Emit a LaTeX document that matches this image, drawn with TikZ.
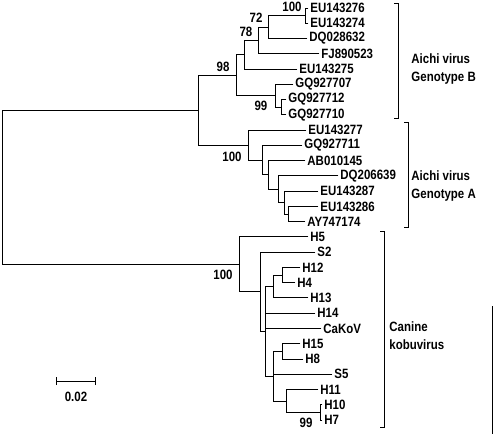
\documentclass[tikz,border=0pt]{standalone}
\usepackage{fontspec}
\setmainfont{Liberation Sans}
\newfontfamily\treefont[FakeStretch=0.85]{Liberation Sans}
\begin{document}
\begin{tikzpicture}[x=1pt,y=-1pt,line width=0.9pt,
  lbl/.style={font=\treefont\fontsize{13.5}{15}\selectfont\bfseries},
  leaf/.style={lbl,anchor=west,inner xsep=2pt,inner ysep=0pt},
  boot/.style={lbl,inner sep=0pt},
  grp/.style={anchor=west,align=left,inner sep=0pt,font=\treefont\fontsize{13.5}{18}\selectfont\bfseries},
  edge/.style={draw=black,line width=0.9pt,line cap=rect},
  brk/.style={draw=black,line width=0.8pt}]
\useasboundingbox (0,0) rectangle (496,434);
% internal nodes
\coordinate (root) at (2,187.25);
\coordinate (T) at (198,110.17);
\coordinate (n98) at (236,75.24);
\coordinate (nX) at (244,54.73);
\coordinate (n78) at (258,40.43);
\coordinate (n72) at (268,27.08);
\coordinate (n100) at (305,15.63);
\coordinate (n99) at (275,95.75);
\coordinate (n99a) at (281,107.19);
\coordinate (nA) at (248,145.10);
\coordinate (nA2) at (262,160.12);
\coordinate (nA3) at (268,174.91);
\coordinate (nA4) at (278,189.21);
\coordinate (nA5) at (284,202.57);
\coordinate (nA6) at (288,214.01);
\coordinate (nC) at (239,264.33);
\coordinate (nC2) at (260,291.75);
\coordinate (nC3) at (265,331.33);
\coordinate (cH) at (273,286.50);
\coordinate (nH124) at (282,275.05);
\coordinate (cL) at (273,376.15);
\coordinate (nH158) at (282,351.35);
\coordinate (nH11) at (286,400.95);
\coordinate (nH107) at (320,412.39);
% leaves
\node[leaf] (l0) at (308,8.00) {EU143276};
\node[leaf] (l1) at (308,23.26) {EU143274};
\node[leaf] (l2) at (307,38.52) {DQ028632};
\node[leaf] (l3) at (319,53.78) {FJ890523};
\node[leaf] (l4) at (297,69.04) {EU143275};
\node[leaf] (l5) at (293,84.30) {GQ927707};
\node[leaf] (l6) at (286,99.56) {GQ927712};
\node[leaf] (l7) at (286,114.82) {GQ927710};
\node[leaf] (l8) at (306,130.08) {EU143277};
\node[leaf] (l9) at (302,145.34) {GQ927711};
\node[leaf] (l10) at (305,160.60) {AB010145};
\node[leaf] (l11) at (338,175.86) {DQ206639};
\node[leaf] (l12) at (318,191.12) {EU143287};
\node[leaf] (l13) at (318,206.38) {EU143286};
\node[leaf] (l14) at (305,221.64) {AY747174};
\node[leaf] (l15) at (308,236.90) {H5};
\node[leaf] (l16) at (315,252.16) {S2};
\node[leaf] (l17) at (300,267.42) {H12};
\node[leaf] (l18) at (295,282.68) {H4};
\node[leaf] (l19) at (308,297.94) {H13};
\node[leaf] (l20) at (315,313.20) {H14};
\node[leaf] (l21) at (321,328.46) {CaKoV};
\node[leaf] (l22) at (300,343.72) {H15};
\node[leaf] (l23) at (303,358.98) {H8};
\node[leaf] (l24) at (332,374.24) {S5};
\node[leaf] (l25) at (318,389.50) {H11};
\node[leaf] (l26) at (322,404.76) {H10};
\node[leaf] (l27) at (322,420.02) {H7};
% edges
\draw[edge] (root) |- (T);
\draw[edge] (root) |- (nC);
\draw[edge] (T) |- (n98);
\draw[edge] (T) |- (nA);
\draw[edge] (n98) |- (nX);
\draw[edge] (n98) |- (n99);
\draw[edge] (nX) |- (n78);
\draw[edge] (nX) |- (l4.west);
\draw[edge] (n78) |- (n72);
\draw[edge] (n78) |- (l3.west);
\draw[edge] (n72) |- (n100);
\draw[edge] (n72) |- (l2.west);
\draw[edge] (n100) |- (l0.west);
\draw[edge] (n100) |- (l1.west);
\draw[edge] (n99) |- (l5.west);
\draw[edge] (n99) |- (n99a);
\draw[edge] (n99a) |- (l6.west);
\draw[edge] (n99a) |- (l7.west);
\draw[edge] (nA) |- (l8.west);
\draw[edge] (nA) |- (nA2);
\draw[edge] (nA2) |- (l9.west);
\draw[edge] (nA2) |- (nA3);
\draw[edge] (nA3) |- (l10.west);
\draw[edge] (nA3) |- (nA4);
\draw[edge] (nA4) |- (l11.west);
\draw[edge] (nA4) |- (nA5);
\draw[edge] (nA5) |- (l12.west);
\draw[edge] (nA5) |- (nA6);
\draw[edge] (nA6) |- (l13.west);
\draw[edge] (nA6) |- (l14.west);
\draw[edge] (nC) |- (l15.west);
\draw[edge] (nC) |- (nC2);
\draw[edge] (nC2) |- (l16.west);
\draw[edge] (nC2) |- (nC3);
\draw[edge] (nC3) |- (cH);
\draw[edge] (nC3) |- (l20.west);
\draw[edge] (nC3) |- (l21.west);
\draw[edge] (nC3) |- (cL);
\draw[edge] (cH) |- (nH124);
\draw[edge] (cH) |- (l19.west);
\draw[edge] (nH124) |- (l17.west);
\draw[edge] (nH124) |- (l18.west);
\draw[edge] (cL) |- (nH158);
\draw[edge] (cL) |- (l24.west);
\draw[edge] (cL) |- (nH11);
\draw[edge] (nH158) |- (l22.west);
\draw[edge] (nH158) |- (l23.west);
\draw[edge] (nH11) |- (l25.west);
\draw[edge] (nH11) |- (nH107);
\draw[edge] (nH107) |- (l26.west);
\draw[edge] (nH107) |- (l27.west);
% bootstrap values
\node[boot] (b1) at (292,7) {100};
\node[boot] (b2) at (256,18) {72};
\node[boot] (b3) at (246,32) {78};
\node[boot] (b4) at (223,67) {98};
\node[boot] (b5) at (261,106) {99};
\node[boot] (b6) at (232,157) {100};
\node[boot] (b7) at (223,275) {100};
\node[boot] (b8) at (306,423) {99};
% brackets
\coordinate (bBa) at (394,3);
\coordinate (bBb) at (398,3);
\coordinate (bBc) at (398,118);
\coordinate (bBd) at (394,118);
\draw[brk] (bBa) -- (bBb) -- (bBc) -- (bBd);
\coordinate (bAa) at (404,122);
\coordinate (bAb) at (408,122);
\coordinate (bAc) at (408,227);
\coordinate (bAd) at (404,227);
\draw[brk] (bAa) -- (bAb) -- (bAc) -- (bAd);
\coordinate (bCa) at (380,231);
\coordinate (bCb) at (384,231);
\coordinate (bCc) at (384,427);
\coordinate (bCd) at (380,427);
\draw[brk] (bCa) -- (bCb) -- (bCc) -- (bCd);
\node[grp] (gB) at (411,69) {Aichi virus\\Genotype B};
\node[grp] (gA) at (411,186) {Aichi virus\\Genotype A};
\node[grp] (gC) at (389,336) {Canine\\kobuvirus};
% stray line at right
\coordinate (sa) at (492,306);
\coordinate (sb) at (492,434);
\draw[brk] (sa) -- (sb);
% scale bar
\coordinate (sc1) at (56,381);
\coordinate (sc2) at (95,381);
\draw[brk] (sc1) -- (sc2);
\draw[brk] ([yshift=-4pt]sc1) -- ([yshift=4pt]sc1);
\draw[brk] ([yshift=-4pt]sc2) -- ([yshift=4pt]sc2);
\node[boot] (sct) at (76,397) {0.02};
\end{tikzpicture}
\end{document}
